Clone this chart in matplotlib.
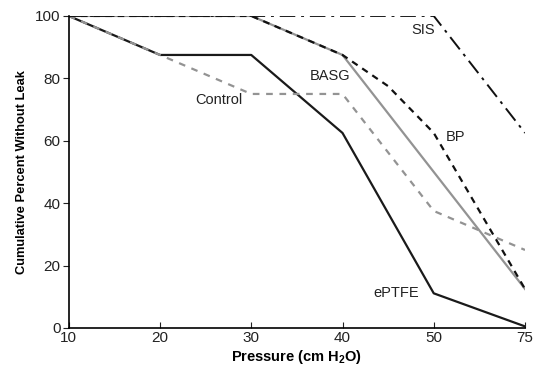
import matplotlib
matplotlib.use("Agg")
import matplotlib.pyplot as plt

plt.rcParams['font.family'] = ['Liberation Sans', 'DejaVu Sans']
plt.rcParams['mathtext.fontset'] = 'custom'
plt.rcParams['mathtext.rm'] = 'Liberation Sans:bold'
plt.rcParams['mathtext.it'] = 'Liberation Sans:bold'
plt.rcParams['mathtext.bf'] = 'Liberation Sans:bold'

pressure_labels = ["10", "20", "30", "40", "50", "75"]
pos_main = [0, 1, 2, 3, 4, 5]
pos_bp = [0, 1, 2, 3, 3.5, 4, 5]

sis = [100, 100, 100, 100, 100, 62.5]
bp = [100, 100, 100, 87.5, 77.5, 62.5, 12.5]
basg = [100, 100, 100, 87.5, 50, 12.5]
control = [100, 87.5, 75, 75, 37.5, 25]
eptfe = [100, 87.5, 87.5, 62.5, 11.1, 0.5]

labels = ["SIS", "BP", "BASG", "Control", "ePTFE"]
label_xy = [(3.88, 95.5), (4.24, 61.3), (2.86, 80.8), (1.65, 73), (3.59, 11.3)]

fig = plt.figure(figsize=(5.33, 3.71), dpi=100)
ax = fig.add_axes([0.129, 0.116, 0.856, 0.841])

gray = '#939393'
ax.plot(pos_main, eptfe, color='#1a1a1a', lw=1.6)
ax.plot(pos_main, basg, color=gray, lw=1.6)
ax.plot(pos_main, control, color=gray, lw=1.6, dashes=(3, 3))
ax.plot(pos_bp, bp, color='#111111', lw=1.6, dashes=(3, 2.5))
ax.plot(pos_main, sis, color='#111111', lw=1.4, dashes=(8, 3, 1.5, 3))

for t, (x, y) in zip(labels, label_xy):
    ax.text(x, y, t, ha='center', va='center', fontsize=10.5, color='#222222')

ax.set_xlim(0, 5)
ax.set_ylim(0, 100)
ax.set_xticks(pos_main)
ax.set_xticklabels(pressure_labels)
ax.set_yticks([0, 20, 40, 60, 80, 100])
ax.spines['top'].set_visible(False)
ax.spines['right'].set_visible(False)
for s in ['left', 'bottom']:
    ax.spines[s].set_linewidth(1.2)
ax.tick_params(axis='x', direction='in', length=4, labelsize=11, pad=2, colors='#222222')
ax.tick_params(axis='y', direction='out', length=4, labelsize=11, pad=2, colors='#222222')
ax.set_xlabel('Pressure (cm H$_2$O)', fontsize=10.5, fontweight='bold', labelpad=2)
ax.set_ylabel('Cumulative Percent Without Leak', fontsize=9.3, fontweight='bold', labelpad=5)

fig.savefig('out.png', dpi=100)
